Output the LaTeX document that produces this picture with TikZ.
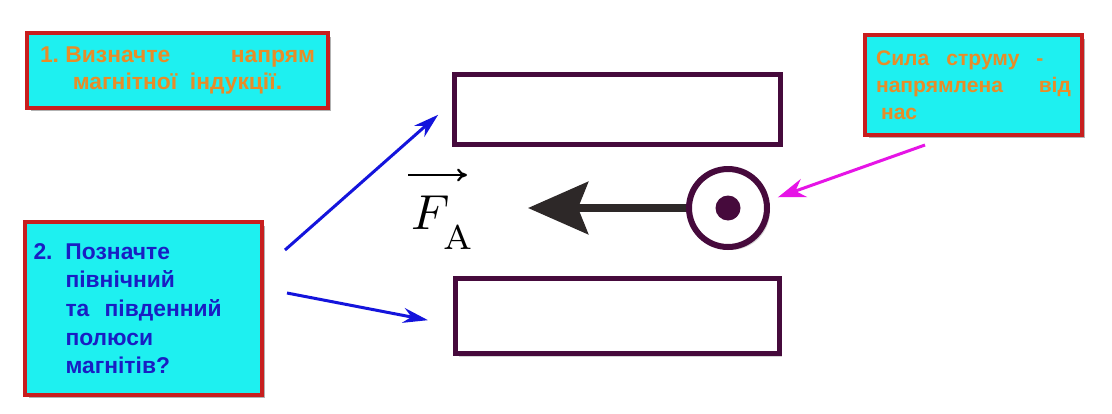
\documentclass[tikz,border=0pt]{standalone}
\usepackage{graphicx}
\usepackage{fontspec}
\setsansfont{Liberation Sans}
\usepackage{tikz}
\usetikzlibrary{arrows.meta, shadows}
\definecolor{boxcyan}{RGB}{30,240,240}
\definecolor{boxred}{RGB}{200,30,30}
\definecolor{boxorange}{RGB}{232,140,40}
\definecolor{boxblue}{RGB}{25,30,195}
\definecolor{magnetpurple}{RGB}{70,10,60}
\definecolor{forcegray}{RGB}{45,40,40}
\definecolor{arrowblue}{RGB}{20,20,220}
\definecolor{arrowmagenta}{RGB}{230,20,230}

\begin{document}
\begin{tikzpicture}[x=0.02cm, y=-0.02cm,
    task/.style={draw=boxred, line width=0.08cm, fill=boxcyan, inner sep=0pt,
        drop shadow={shadow xshift=0.07cm, shadow yshift=-0.07cm, fill=black!50, opacity=0.6},
        font=\sffamily\bfseries\fontsize{12}{14.8}\selectfont},
    magnet/.style={draw=magnetpurple, line width=0.1cm, fill=white, inner sep=0pt,
        drop shadow={shadow xshift=0.06cm, shadow yshift=-0.06cm, fill=black!40, opacity=0.4}},
    pointer/.style={line width=0.06cm, -{Stealth[length=0.5cm, width=0.3cm]}}]
    \useasboundingbox (0,0) rectangle (1112,413);
    \fill[white] (0,0) rectangle (1112,413);
    \node[task, text=boxorange, minimum width=6.02cm, minimum height=1.5cm, align=center,
        font=\sffamily\bfseries\fontsize{13}{15.6}\selectfont] (dir) at (177.5,70.5)
        {\makebox[5.5cm]{1.\ Визначте\hfill напрям}\\ магнітної\ \ індукції.};
    \node[task, text=boxblue, minimum width=4.74cm, minimum height=3.46cm, text width=4.4cm,
        font=\sffamily\bfseries\fontsize{13}{16.3}\selectfont] (poles) at (143.5,308.5)
        {\makebox[0.64cm][l]{2.}Позначте\\ \hspace*{0.64cm}північний\\ \hspace*{0.64cm}та\ \ південний\\
         \hspace*{0.64cm}полюси\\ \hspace*{0.64cm}магнітів?};
    \node[task, text=boxorange, minimum width=4.34cm, minimum height=2cm, text width=3.9cm,
        font=\sffamily\bfseries\fontsize{12}{15.3}\selectfont] (curr) at (973.5,85)
        {\makebox[3.35cm][l]{Сила\hfill струму\hfill -}\\ напрямлена\hfill від\\ \hspace*{0.1cm}нас};
    \node[magnet, minimum width=6.52cm, minimum height=1.4cm] (upper) at (617.5,109.5) {};
    \node[magnet, minimum width=6.48cm, minimum height=1.5cm] (lower) at (617.5,316) {};
    \node[magnet, circle, line width=0.12cm, minimum size=1.56cm] (cur) at (728,208) {};
    \fill[magnetpurple] (cur.center) circle (0.25cm);
    \coordinate (tip) at (528,208);
    \draw[forcegray, line width=0.16cm, -{Stealth[length=1.2cm, width=1.04cm, inset=0.2cm]}] (cur.west) -- (tip);
    \node[inner sep=0pt] (fa) at (443,223) {\scalebox{2.8}{$F_{\lower0.25em\hbox{$\scriptstyle\mathrm{A}$}}$}};
    \draw[black, line width=0.045cm, -{To[length=0.2cm, width=0.26cm]}] (408,175) -- (467,175);
    \coordinate (q1) at (285,250);
    \coordinate (q2) at (287,293);
    \coordinate (m) at (925,145);
    \draw[pointer, arrowblue, shorten >=0.37cm] (q1) -- ([yshift=0.14cm]upper.west);
    \draw[pointer, arrowblue, shorten >=0.51cm] (q2) -- ([yshift=-0.18cm]lower.west);
    \draw[pointer, arrowmagenta, shorten >=1.06cm, -{Stealth[length=0.55cm, width=0.38cm]}] (m) -- ([yshift=-0.14cm]cur.center);
\end{tikzpicture}
\end{document}
